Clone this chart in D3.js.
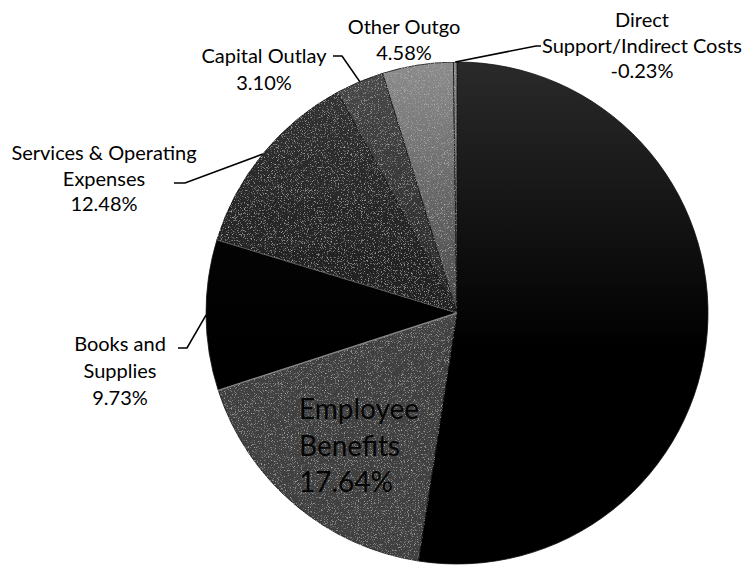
<!DOCTYPE html>
<html>
<head>
<meta charset="utf-8">
<script src="https://cdn.jsdelivr.net/npm/d3@7"></script>
<style>
  html, body { margin: 0; padding: 0; background: #ffffff; }
  svg { display: block; }
  text { font-family: Lato, "Open Sans", "DejaVu Sans", sans-serif; }
</style>
</head>
<body>
<svg id="chart" width="744" height="565"></svg>
<script>
// ---- data ----
const categories = [
  "Salaries",
  "Employee Benefits",
  "Books and Supplies",
  "Services & Operating Expenses",
  "Capital Outlay",
  "Other Outgo",
  "Direct Support/Indirect Costs"
];
const percents = [52.70, 17.64, 9.73, 12.48, 3.10, 4.58, -0.23];
const labelLines = [
  null,
  ["Employee", "Benefits"],
  ["Books and", "Supplies"],
  ["Services & Operating", "Expenses"],
  ["Capital Outlay"],
  ["Other Outgo"],
  ["Direct", "Support/Indirect Costs"]
];

// ---- layout / style ----
const cx = 457, cy = 313, R = 251;
const topFill = ["#2a2a2a", "#666666", "#0a0a0a", "#343434", "#4a4a4a", "#8c8c8c", "#8a8a8a"];
const botFill = ["#000000", "#404040", "#000000", "#1c1c1c", "#222222", "#3c3c3c", "#555555"];
const grainLevel = [0, 2, 0, 2, 2, 2, 2];
const labelLayout = [
  null,
  { x: 299, y: 419, lh: 36.5, anchor: "start", size: 28, fill: "#050505" },
  { x: 120, y: 351, lh: 27, anchor: "middle", size: 20, elbow: [187, 348], end: [178, 348] },
  { x: 104, y: 160, lh: 25.5, anchor: "middle", size: 20, elbow: [185, 183], end: [174, 183] },
  { x: 264, y: 63, lh: 27, anchor: "middle", size: 20, elbow: [342, 56], end: [333, 56] },
  { x: 404, y: 34, lh: 26, anchor: "middle", size: 20 },
  { x: 642, y: 27, lh: 25.5, anchor: "middle", size: 20, elbow: [536, 46], end: [541, 46] }
];

const data = categories.map((c, i) => ({ name: c, value: percents[i], i }));
const locale = d3.formatLocale({ decimal: ".", thousands: ",", grouping: [3], currency: ["$", ""], minus: "-" });
const fmt = v => locale.format(".2f")(v) + "%";

const svg = d3.select("#chart");
const defs = svg.append("defs");

data.forEach(d => {
  const gr = defs.append("linearGradient")
    .attr("id", "grad" + d.i)
    .attr("gradientUnits", "userSpaceOnUse")
    .attr("x1", 0).attr("y1", -R).attr("x2", 0).attr("y2", R * 0.15);
  gr.append("stop").attr("offset", "0").attr("stop-color", topFill[d.i]);
  gr.append("stop").attr("offset", "1").attr("stop-color", botFill[d.i]);
});

function makeGrain(id, alphaRow, col) {
  const f = defs.append("filter").attr("id", id)
    .attr("x", 0).attr("y", 0).attr("width", "100%").attr("height", "100%");
  f.append("feTurbulence").attr("type", "fractalNoise").attr("baseFrequency", 1.3)
    .attr("numOctaves", 1).attr("seed", 7).attr("result", "noise");
  f.append("feColorMatrix").attr("in", "noise").attr("type", "matrix")
    .attr("values", `0 0 0 0 ${col}  0 0 0 0 ${col}  0 0 0 0 ${col}  ${alphaRow}`)
    .attr("result", "spk");
  f.append("feComposite").attr("in", "spk").attr("in2", "SourceAlpha")
    .attr("operator", "in").attr("result", "spkc");
  const m = f.append("feMerge");
  m.append("feMergeNode").attr("in", "SourceGraphic");
  m.append("feMergeNode").attr("in", "spkc");
}
makeGrain("grain2", "3 0 0 0 -1.7", 0.6);

const pie = d3.pie().sort(null).value(d => Math.abs(d.value))
  .startAngle(0).endAngle(2 * Math.PI);
const arcs = pie(data);
const arc = d3.arc().innerRadius(0).outerRadius(R);

const g = svg.append("g").attr("transform", `translate(${cx},${cy})`);
g.selectAll("path.slice")
  .data(arcs)
  .join("path")
  .attr("class", "slice")
  .attr("d", arc)
  .attr("fill", d => `url(#grad${d.data.i})`)
  .attr("filter", d => grainLevel[d.data.i] ? `url(#grain${grainLevel[d.data.i]})` : null)
  .attr("stroke", "#111")
  .attr("stroke-width", 0.8);

// light edges along the upper boundaries of Employee Benefits and Books
[1, 2].forEach(k => {
  const a = arcs[k].endAngle;
  g.append("line")
    .attr("x1", 0).attr("y1", 0)
    .attr("x2", R * Math.sin(a)).attr("y2", -R * Math.cos(a))
    .attr("stroke", k === 1 ? "#a0a0a0" : "#6a6a6a")
    .attr("stroke-width", k === 1 ? 1.4 : 1)
    .attr("opacity", 0.8);
});

// leader lines from each slice's outer edge at its mid angle
arcs.forEach(d => {
  const L = labelLayout[d.data.i];
  if (!L || !L.elbow) return;
  const p = arc.centroid(d);
  const mid = Math.atan2(p[0], -p[1]);
  const ex = cx + R * Math.sin(mid), ey = cy - R * Math.cos(mid);
  svg.append("polyline")
    .attr("points", [[ex, ey], L.elbow, L.end].map(q => q.join(",")).join(" "))
    .attr("fill", "none")
    .attr("stroke", "#000")
    .attr("stroke-width", 1.6);
});

// labels
data.forEach(d => {
  const L = labelLayout[d.i];
  if (!L) return;
  const lines = labelLines[d.i].concat([fmt(d.value)]);
  const t = svg.append("text")
    .attr("x", L.x).attr("y", L.y)
    .attr("text-anchor", L.anchor)
    .attr("font-size", L.size)
    .attr("fill", L.fill || "#000");
  lines.forEach((ln, k) => {
    t.append("tspan").attr("x", L.x).attr("y", L.y + k * L.lh).text(ln);
  });
});
</script>
</body>
</html>
